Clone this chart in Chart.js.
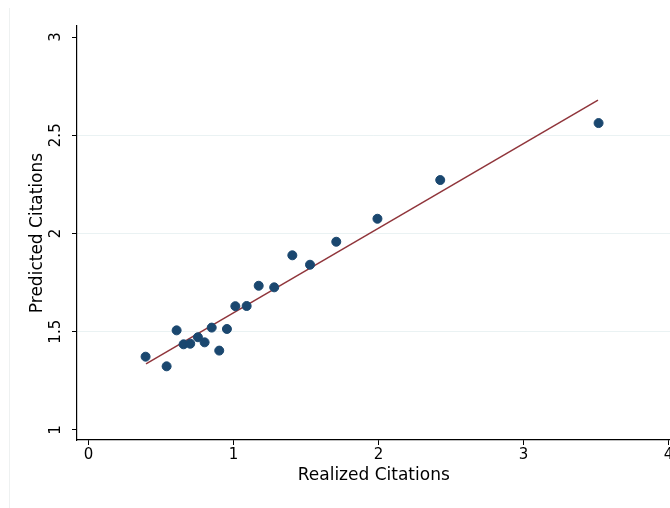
<!DOCTYPE html>
<html>
<head>
<meta charset="utf-8">
<script src="https://cdn.jsdelivr.net/npm/chart.js@4"></script>
<style>
  html, body { margin: 0; padding: 0; background: #fff; overflow: hidden; }
  #wrap { position: relative; width: 670px; height: 508px; overflow: hidden; }
  #edge { position: absolute; left: 9px; top: 8px; width: 1px; height: 500px; background: #eef1f1; }
  canvas { position: absolute; left: 0; top: 0; }
</style>
</head>
<body>
<div id="wrap">
  <div id="edge"></div>
  <canvas id="citChart" width="676" height="508"></canvas>
</div>
<script>
var realized = [0.394, 0.539, 0.608, 0.656, 0.702, 0.755, 0.801, 0.850, 0.902, 0.955,
                1.013, 1.091, 1.174, 1.281, 1.406, 1.528, 1.709, 1.993, 2.426, 3.518];
var predicted = [1.373, 1.324, 1.507, 1.436, 1.439, 1.472, 1.446, 1.521, 1.404, 1.514,
                 1.630, 1.631, 1.734, 1.726, 1.889, 1.841, 1.958, 2.075, 2.272, 2.562];
var fitX = [0.397, 3.514];
var fitY = [1.336, 2.679];
var xTicks = [0, 1, 2, 3, 4];
var yTicks = [1, 1.5, 2, 2.5, 3];

var tickFont = { family: 'DejaVu Sans', size: 15 };
var titleFont = { family: 'DejaVu Sans', size: 17 };

var ctx = document.getElementById('citChart').getContext('2d');

var myChart = new Chart(ctx, {
    type: 'scatter',
    data: {
        datasets: [{
            label: 'Predicted',
            data: realized.map(function (x, i) { return { x: x, y: predicted[i] }; }),
            backgroundColor: '#1a476f',
            borderColor: '#1a476f',
            pointRadius: 4.5,
            pointHoverRadius: 4.5
        }, {
            type: 'line',
            label: 'Fit',
            data: fitX.map(function (x, i) { return { x: x, y: fitY[i] }; }),
            borderColor: '#90353b',
            borderWidth: 1.5,
            pointRadius: 0,
            fill: false
        }]
    },
    options: {
        responsive: false,
        animation: false,
        layout: { padding: { top: 26, right: 0, left: 0, bottom: 0 } },
        plugins: {
            legend: { display: false },
            tooltip: { enabled: false }
        },
        scales: {
            x: {
                type: 'linear',
                min: -0.079,
                max: 4.014,
                afterBuildTicks: function (s) { s.ticks = xTicks.map(function (v) { return { value: v }; }); },
                afterFit: function (s) { s.height = 68; s.paddingLeft = 0; s.paddingRight = 0; },
                border: { display: true, color: '#000', width: 1.2 },
                grid: { drawOnChartArea: false, tickColor: '#000', tickLength: 5, tickWidth: 1 },
                ticks: { color: '#000', font: tickFont, padding: 1, maxRotation: 0 },
                title: { display: true, text: 'Realized Citations', color: '#000', font: titleFont, padding: { top: 0, bottom: 22 } }
            },
            y: {
                min: 0.949,
                max: 3.056,
                afterBuildTicks: function (s) { s.ticks = yTicks.map(function (v) { return { value: v }; }); },
                afterFit: function (s) { s.width = 77; },
                border: { display: true, color: '#000', width: 1.2 },
                grid: {
                    color: function (c) { return (c.tick && (c.tick.value === 1 || c.tick.value === 3)) ? 'rgba(0,0,0,0)' : '#eaf2f3'; },
                    tickColor: '#000',
                    tickLength: 5,
                    lineWidth: 1
                },
                ticks: {
                    color: '#000', font: tickFont, padding: 4,
                    minRotation: 90, maxRotation: 90, crossAlign: 'center',
                    callback: function (v) { return String(v); }
                },
                title: { display: true, text: 'Predicted Citations', color: '#000', font: titleFont, padding: { top: 27, bottom: 0 } }
            }
        }
    }
});
</script>
</body>
</html>
